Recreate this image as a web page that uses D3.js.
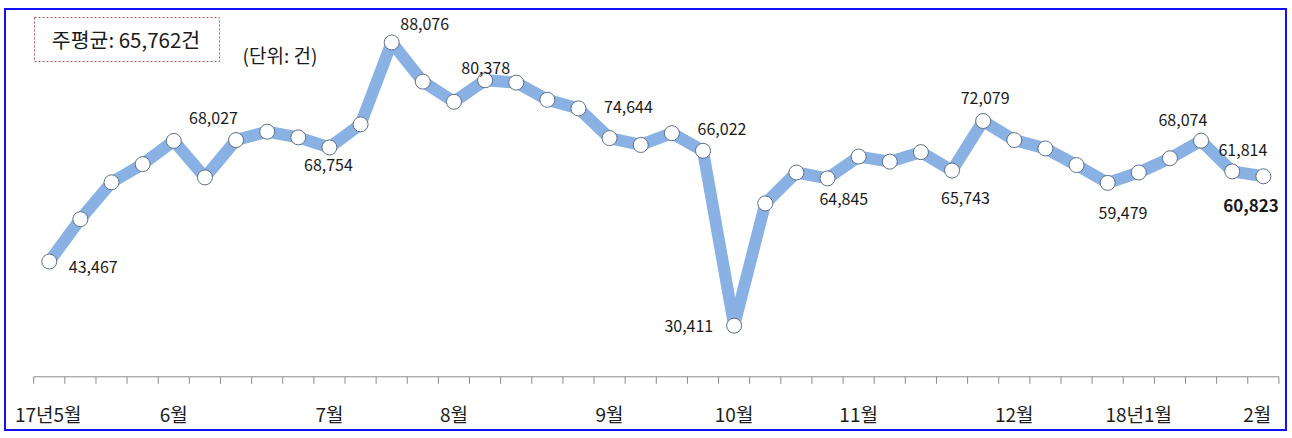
<!DOCTYPE html>
<html>
<head>
<meta charset="utf-8">
<script src="https://cdn.jsdelivr.net/npm/d3@7"></script>
<style>
  html, body { margin: 0; padding: 0; background: #fff; }
  svg { display: block; font-family: "Noto Sans CJK KR", "Noto Sans", sans-serif; }
</style>
</head>
<body>
<svg id="chart" width="1292" height="438"></svg>
<script>
// ---- data (weekly counts, 2017 May week 1 .. 2018 Feb) ----
const weeks = d3.range(1, 41).map(i => i + "주");
const values = [
  43467, 52100, 59600, 63300, 68027, 60600, 68200, 69900, 68754, 66700,
  71400, 88076, 80100, 76000, 80378, 79900, 76400, 74644, 68600, 67200,
  69600, 66022, 30411, 55300, 61600, 60400, 64845, 63800, 65743, 62000,
  72079, 68200, 66500, 63100, 59479, 61600, 64500, 68074, 61814, 60823
];
const tickIndex = [0, 4, 9, 13, 18, 22, 26, 31, 35, 39];
const tickLabels = ["17년5월", "6월", "7월", "8월", "9월", "10월", "11월", "12월", "18년1월", "2월"];
const labelIndex = [0, 4, 9, 11, 14, 17, 21, 22, 25, 29, 30, 34, 37, 38, 39];
const labelText = ["43,467", "68,027", "68,754", "88,076", "80,378", "74,644", "66,022", "30,411",
                   "64,845", "65,743", "72,079", "59,479", "68,074", "61,814", "60,823"];
const avgText = "주평균: 65,762건";
const unitText = "(단위: 건)";
const yDomain = [20000, 90000];

// ---- layout ----
const svg = d3.select("#chart");
const x = d3.scaleBand().domain(weeks).range([33.7, 1278.9]).padding(0);
const cx = i => x(weeks[i]) + x.bandwidth() / 2;
const y = d3.scaleLinear().domain(yDomain).range([376.8, 33]);

// outer blue frame
svg.append("rect").attr("x", 5).attr("y", 9).attr("width", 1281).attr("height", 421)
  .attr("fill", "none").attr("stroke", "#1010f0").attr("stroke-width", 2);

// x axis with ticks at band boundaries
const axisY = y(yDomain[0]);
const axisG = svg.append("g").attr("transform", `translate(0,${axisY})`);
axisG.append("line").attr("x1", x.range()[0]).attr("x2", x.range()[1])
  .attr("stroke", "#8c8c8c").attr("stroke-width", 1);
const edges = weeks.map(w => x(w)).concat([x.range()[1]]);
axisG.selectAll("line.tick").data(edges).join("line").attr("class", "tick")
  .attr("x1", d => d).attr("x2", d => d).attr("y1", 0).attr("y2", 7)
  .attr("stroke", "#8c8c8c").attr("stroke-width", 1);

// month labels
const tickShift = { 0: -1, 39: -6 };
svg.append("g").selectAll("text").data(tickIndex).join("text")
  .attr("x", (d) => cx(d) + (tickShift[d] || 0))
  .attr("y", axisY + 45)
  .attr("text-anchor", "middle")
  .attr("font-size", 19)
  .attr("fill", "#1e1e1e")
  .text((d, i) => tickLabels[i]);

// line
const line = d3.line().x((d, i) => cx(i)).y(d => y(d));
svg.append("path").datum(values).attr("d", line)
  .attr("fill", "none").attr("stroke", "#89b1e3").attr("stroke-width", 12)
  .attr("stroke-linejoin", "round").attr("stroke-linecap", "round");

// markers
svg.append("g").selectAll("circle").data(values).join("circle")
  .attr("cx", (d, i) => cx(i)).attr("cy", d => y(d)).attr("r", 7.5)
  .attr("fill", "#fff").attr("stroke", "#5f6f86").attr("stroke-width", 1);

// data labels (offset: center dx, baseline dy relative to the marker)
const labelOffset = {
  0: [44, 11.5], 4: [39.7, -16.7], 9: [-1, 23.7], 11: [33, -12], 14: [0.6, -6],
  17: [50, 5], 21: [19, -16], 22: [-45.3, 6.5], 25: [16.3, 26.7], 29: [13.5, 33.5],
  30: [2, -16.7], 34: [15.3, 36.3], 37: [-18.2, -14.2], 38: [10.7, -15], 39: [-12.3, 35.8]
};
svg.append("g").selectAll("text").data(labelIndex).join("text")
  .attr("x", d => cx(d) + labelOffset[d][0])
  .attr("y", d => y(values[d]) + labelOffset[d][1])
  .attr("text-anchor", "middle")
  .attr("font-size", d => d === 39 ? 17 : 16)
  .attr("font-weight", d => d === 39 ? "bold" : "normal")
  .attr("fill", "#1a1a1a")
  .text((d, i) => labelText[i]);

// average box
svg.append("rect").attr("x", 34.5).attr("y", 17.5).attr("width", 185).attr("height", 44)
  .attr("fill", "#fff").attr("stroke", "#b05a5a").attr("stroke-width", 1)
  .attr("stroke-dasharray", "2,2");
svg.append("text").attr("x", 126).attr("y", 48).attr("text-anchor", "middle")
  .attr("font-size", 20.5).attr("fill", "#1a1a1a").text(avgText);
svg.append("text").attr("x", 280).attr("y", 63).attr("text-anchor", "middle")
  .attr("font-size", 19).attr("fill", "#1a1a1a").text(unitText);
</script>
</body>
</html>
